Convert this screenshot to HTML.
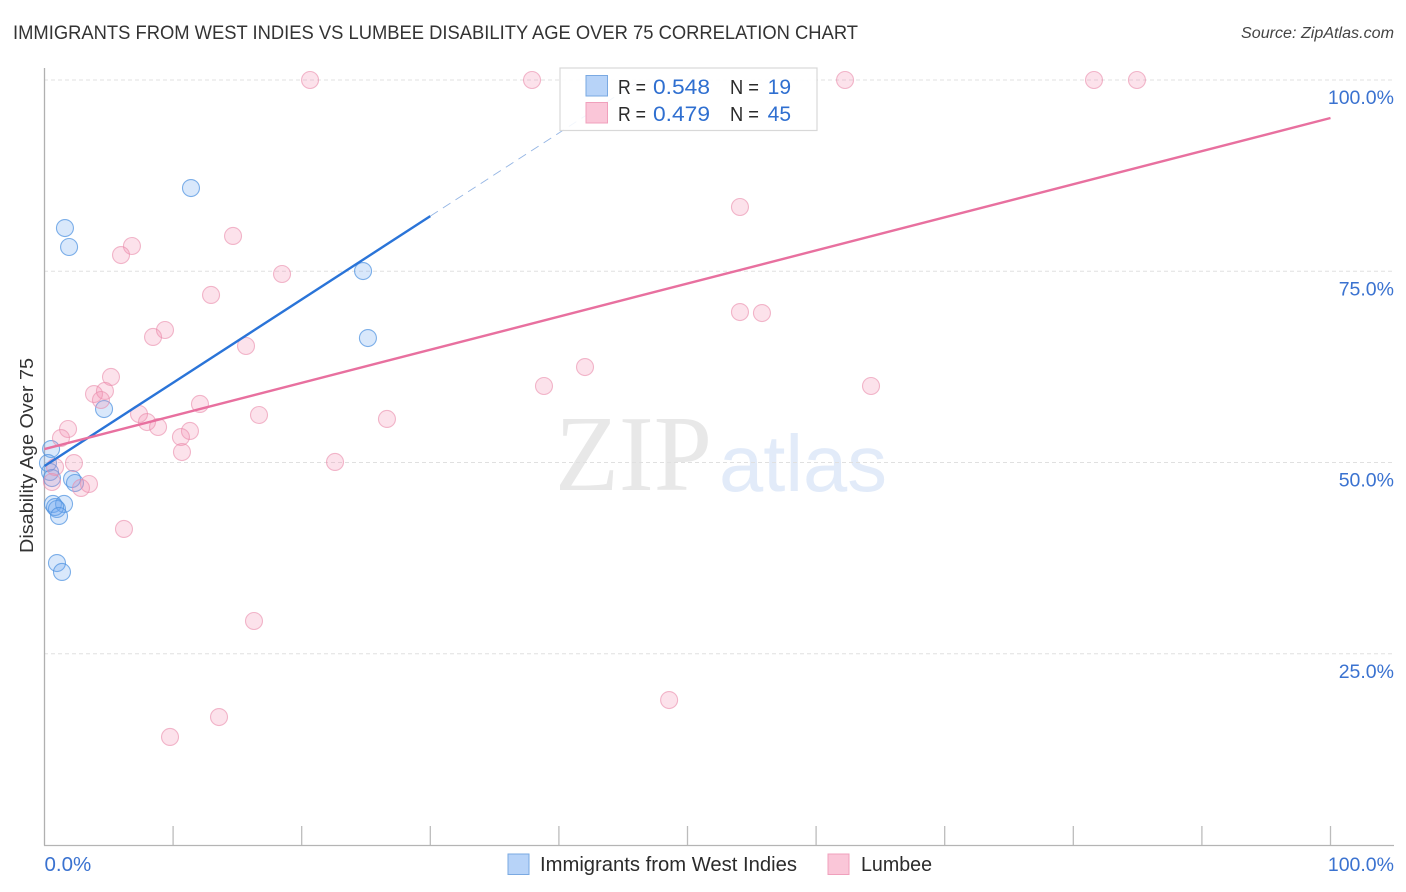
<!DOCTYPE html>
<html lang="en">
<head>
<meta charset="utf-8">
<title>Immigrants from West Indies vs Lumbee Disability Age Over 75 Correlation Chart</title>
<style>
html,body{margin:0;padding:0;background:#fff;}
svg{display:block;font-family:"Liberation Sans",sans-serif;}
</style>
</head>
<body>
<svg id="chart" xmlns="http://www.w3.org/2000/svg" width="1406" height="892" viewBox="0 0 1406 892">
  <rect x="0" y="0" width="1406" height="892" fill="#ffffff"/>
  <text x="13" y="39" font-size="19" fill="#333333" textLength="845" lengthAdjust="spacingAndGlyphs">IMMIGRANTS FROM WEST INDIES VS LUMBEE DISABILITY AGE OVER 75 CORRELATION CHART</text>
  <text x="1394" y="38" font-size="15.5" font-style="italic" fill="#444444" text-anchor="end" textLength="153" lengthAdjust="spacingAndGlyphs">Source: ZipAtlas.com</text>
  <g>
    <text x="555" y="490" font-family="'Liberation Serif',serif" font-size="108" fill="#e8e8e8" textLength="157" lengthAdjust="spacingAndGlyphs">ZIP</text>
    <text x="719" y="491" font-size="80" fill="#e2ebf9" textLength="168" lengthAdjust="spacingAndGlyphs">atlas</text>
  </g>
  <g id="grid"></g>
  <g id="axes"></g>
  <text transform="translate(33,553) rotate(-90)" font-size="18.5" fill="#333333" textLength="195" lengthAdjust="spacingAndGlyphs">Disability Age Over 75</text>
  <g id="yticks"></g>
  <g id="xticks"></g>
  <g id="points-blue"></g>
  <g id="points-pink"></g>
  <g id="trends"></g>
  <g>
    <rect x="560" y="68" width="257" height="62.5" fill="#ffffff" fill-opacity="0.88" stroke="#d8d8d8" stroke-width="1.2"/>
    <rect x="586" y="75.5" width="21.5" height="20.5" fill="#b7d3f8" stroke="#7aa9e2" stroke-width="1"/>
    <rect x="586" y="102.5" width="21.5" height="20.5" fill="#fac6d8" stroke="#f0a0bc" stroke-width="1"/>
    <text x="618" y="94" font-size="20" fill="#2b2b2b" textLength="28" lengthAdjust="spacingAndGlyphs">R =</text>
    <text x="653" y="94" font-size="21" fill="#2f6fd0" textLength="57" lengthAdjust="spacingAndGlyphs">0.548</text>
    <text x="730" y="94" font-size="20" fill="#2b2b2b" textLength="29" lengthAdjust="spacingAndGlyphs">N =</text>
    <text x="791" y="94" font-size="21" fill="#2f6fd0" text-anchor="end">19</text>
    <text x="618" y="121" font-size="20" fill="#2b2b2b" textLength="28" lengthAdjust="spacingAndGlyphs">R =</text>
    <text x="653" y="121" font-size="21" fill="#2f6fd0" textLength="57" lengthAdjust="spacingAndGlyphs">0.479</text>
    <text x="730" y="121" font-size="20" fill="#2b2b2b" textLength="29" lengthAdjust="spacingAndGlyphs">N =</text>
    <text x="791" y="121" font-size="21" fill="#2f6fd0" text-anchor="end">45</text>
  </g>
  <g>
    <rect x="508" y="854" width="21" height="20.5" fill="#b7d3f8" stroke="#7aa9e2" stroke-width="1"/>
    <text x="540" y="871" font-size="20" fill="#2b2b2b" textLength="257" lengthAdjust="spacingAndGlyphs">Immigrants from West Indies</text>
    <rect x="828" y="854" width="21" height="20.5" fill="#fac6d8" stroke="#f0a0bc" stroke-width="1"/>
    <text x="861" y="871" font-size="20" fill="#2b2b2b" textLength="71" lengthAdjust="spacingAndGlyphs">Lumbee</text>
  </g>
</svg>
<script>
var blueX = [11.39,1.59,1.91,24.77,25.15,4.63,0.51,0.27,0.43,0.58,2.14,2.37,0.66,1.52,0.97,0.82,1.13,0.97,1.36];
var blueY = [85.88,80.65,78.17,75.03,66.27,56.99,51.76,49.93,48.76,47.97,47.84,47.32,44.58,44.58,43.92,44.18,43.01,36.86,35.69];
var pinkX = [20.65,37.91,62.25,81.61,84.95,54.08,14.66,6.80,5.95,18.47,12.95,54.08,55.79,9.37,8.44,15.67,42.03,5.17,38.84,64.27,3.85,4.70,4.39,7.35,12.09,16.68,26.63,7.97,8.83,1.83,1.28,11.31,10.61,10.69,22.59,2.29,0.82,0.58,3.46,2.84,6.18,16.29,48.57,13.57,9.76];
var pinkY = [100,100,100,100,100,83.40,79.61,78.30,77.12,74.64,71.90,69.67,69.54,67.32,66.41,65.23,62.48,61.18,60.0,60.0,58.95,59.35,58.17,56.34,57.65,56.21,55.69,55.29,54.64,54.38,53.20,54.12,53.33,51.37,50.07,49.93,49.41,47.45,47.19,46.67,41.31,29.28,18.95,16.73,14.12];
var blueTrendX = [0,30];
var blueTrendY = [49.54,82.2];
var blueTrendDashX = [30,46];
var blueTrendDashY = [82.2,99.6];
var pinkTrendX = [0,100];
var pinkTrendY = [51.76,95.03];
var yTickValues = [100,75,50,25];
var yTickLabels = ['100.0%','75.0%','50.0%','25.0%'];
var xTickValues = [0,10,20,30,40,50,60,70,80,90,100];
var xEdgeValues = [0,100];
var xEdgeLabels = ['0.0%','100.0%'];

var NS = 'http://www.w3.org/2000/svg';
function sx(v){ return 44.5 + v * 12.86; }
function sy(v){ return 845 - v * 7.65; }
function make(tag, attrs, parent){
  var el = document.createElementNS(NS, tag);
  for (var k in attrs) el.setAttribute(k, attrs[k]);
  document.getElementById(parent).appendChild(el);
  return el;
}

yTickValues.forEach(function(v, i){
  var g = make('line', {x1:44, x2:1394, y1:sy(v), y2:sy(v), stroke:'#e0e0e0', 'stroke-width':1, 'stroke-dasharray':'4 3'}, 'grid');
  
  
  var t = make('text', {x:1394, y:sy(v) + 24, 'font-size':19.5, fill:'#3a72d0', 'text-anchor':'end'}, 'yticks');
  t.textContent = yTickLabels[i];
  
  
});

var yAxis = make('line', {x1:44.5, x2:44.5, y1:68, y2:845.5, stroke:'#b0b0b0', 'stroke-width':1.3}, 'axes');


var xAxis = make('line', {x1:44, x2:1394, y1:845.5, y2:845.5, stroke:'#b4b4b4', 'stroke-width':1.3}, 'axes');



xTickValues.forEach(function(v){
  if (v === 0) return;
  var tk = make('line', {x1:sx(v), x2:sx(v), y1:826, y2:845, stroke:'#bcbcbc', 'stroke-width':1.3}, 'axes');
  
  
});

xEdgeValues.forEach(function(v, i){
  var t = make('text', {x: i === 0 ? sx(v) : 1394, y:871, 'font-size': i === 0 ? 20.5 : 19.5, fill:'#3a72d0', 'text-anchor': i === 0 ? 'start' : 'end'}, 'xticks');
  t.textContent = xEdgeLabels[i];
  
  
});

blueX.forEach(function(v, i){
  var c = make('circle', {cx:sx(v), cy:sy(blueY[i]), r:8.5, fill:'#6ea6ee', 'fill-opacity':0.26, stroke:'#4a90e0', 'stroke-opacity':0.7, 'stroke-width':1.1}, 'points-blue');
  
  
});

pinkX.forEach(function(v, i){
  var c = make('circle', {cx:sx(v), cy:sy(pinkY[i]), r:8.5, fill:'#f48fb1', 'fill-opacity':0.26, stroke:'#ea8aaa', 'stroke-opacity':0.6, 'stroke-width':1.1}, 'points-pink');
  
  
});

var bd = make('line', {x1:sx(blueTrendDashX[0]), y1:sy(blueTrendDashY[0]), x2:sx(blueTrendDashX[1]), y2:sy(blueTrendDashY[1]), stroke:'#94b5e4', 'stroke-width':0.9, 'stroke-dasharray':'9 6'}, 'trends');


var bl = make('line', {x1:sx(blueTrendX[0]), y1:sy(blueTrendY[0]), x2:sx(blueTrendX[1]), y2:sy(blueTrendY[1]), stroke:'#2a74d8', 'stroke-width':2.4}, 'trends');


var pl = make('line', {x1:sx(pinkTrendX[0]), y1:sy(pinkTrendY[0]), x2:sx(pinkTrendX[1]), y2:sy(pinkTrendY[1]), stroke:'#e8709f', 'stroke-width':2.4}, 'trends');


</script>
</body>
</html>
